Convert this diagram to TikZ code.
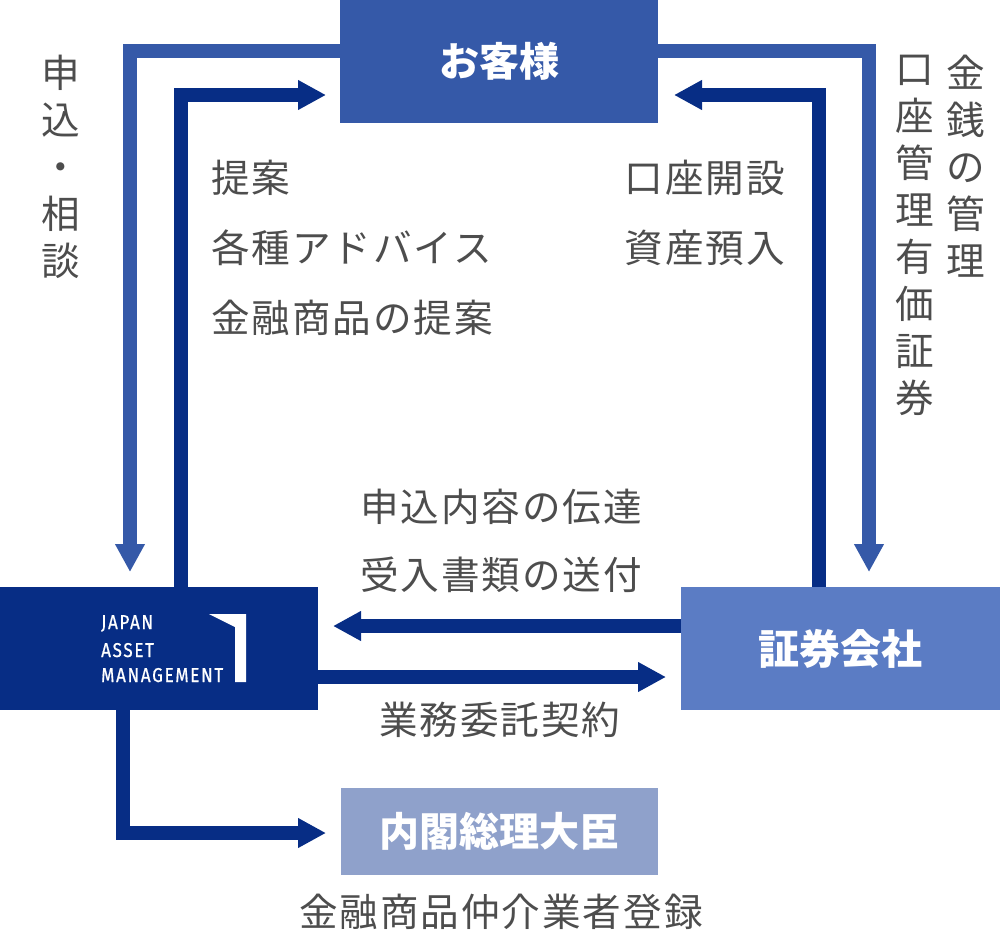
\documentclass[tikz,border=0pt]{standalone}
\usepackage{fontspec}
\setmainfont{Noto Sans CJK JP}
\newfontfamily\logofont[FakeBold=0.8]{Fira Sans}
\usetikzlibrary{arrows.meta}
\definecolor{cBlue}{HTML}{3559A8}
\definecolor{cNavy}{HTML}{072D85}
\definecolor{cMid}{HTML}{5B7CC4}
\definecolor{cPale}{HTML}{8FA1CB}
\definecolor{cText}{HTML}{4D4D4D}
\newcommand{\logotext}[1]{\scalebox{0.85}[1]{#1}}
\begin{document}
\begin{tikzpicture}[x=1pt,y=-1pt,
  box/.style={inner sep=0pt, draw=none, text=white, font=\fontsize{40}{40}\selectfont\bfseries},
  lbl/.style={text=cText, inner sep=0pt, font=\fontsize{38.6}{38.6}\selectfont\addfontfeatures{LetterSpace=5}},
  vlbl/.style={text=cText, inner sep=0pt, align=center, anchor=north, font=\fontsize{38.6}{47}\selectfont},
  lt/.style={draw=cBlue, line width=14.5pt, -{Triangle[width=28pt,length=28pt]}},
  dk/.style={draw=cNavy, line width=14.5pt, -{Triangle[width=28pt,length=28pt]}},
  logo/.style={text=white, inner sep=0pt, anchor=base west, font=\logofont\fontsize{20}{20}\selectfont\addfontfeatures{LetterSpace=10}}]
\useasboundingbox (0,0) rectangle (1000,935);
% boxes
\node[box, fill=cBlue, minimum width=318pt, minimum height=123pt] (cust) at (499,61.5) {お客様};
\node[box, fill=cNavy, minimum width=318pt, minimum height=123pt] (jam) at (159,648.5) {};
\node[box, fill=cMid, minimum width=319pt, minimum height=123pt, font=\fontsize{41}{41}\selectfont\bfseries] (sec) at (840.5,648.5) {証券会社};
\node[box, fill=cPale, minimum width=317pt, minimum height=87pt] (cab) at (499.5,831.5) {内閣総理大臣};
% logo
\node[logo] (lg1) at (101,629) {\logotext{JAPAN}};
\node[logo] (lg2) at (101,657) {\logotext{ASSET}};
\node[logo] (lg3) at (101,682) {\logotext{MANAGEMENT}};
\fill[white] (209,614) -- (246,614) -- (246,682) -- (235,682) -- (235,627) -- cycle;
% free ends
\coordinate (olEnd) at (130,572);
\coordinate (ilEnd) at (326,95);
\coordinate (orEnd) at (869,572);
\coordinate (irEnd) at (674,95);
\coordinate (jlEnd) at (333,626);
\coordinate (srEnd) at (666,677);
\coordinate (cbEnd) at (326,833);
% connectors
\draw[lt] (cust.west |- 0,51) -| (olEnd);
\draw[lt] (cust.east |- 0,51) -| (orEnd);
\draw[dk] (jam.north -| 181,0) |- (ilEnd);
\draw[dk] (sec.north -| 819,0) |- (irEnd);
\draw[dk] (sec.west |- 0,626) -- (jlEnd);
\draw[dk] (jam.east |- 0,677) -- (srEnd);
\draw[dk] (jam.south -| 123,0) |- (cbEnd);
% labels
\node[lbl, anchor=base west] (t1) at (211,192) {提案};
\node[lbl, anchor=base west] (t2) at (211,262) {各種アドバイス};
\node[lbl, anchor=base west] (t3) at (211,332) {金融商品の提案};
\node[lbl, anchor=base east] (t4) at (785,192) {口座開設};
\node[lbl, anchor=base east] (t5) at (785,262) {資産預入};
\node[lbl, anchor=base] (t6) at (501,521) {申込内容の伝達};
\node[lbl, anchor=base] (t7) at (501,589) {受入書類の送付};
\node[lbl, anchor=base] (t8) at (500,734) {業務委託契約};
\node[lbl, anchor=base] (t9) at (501,926) {金融商品仲介業者登録};
\node[vlbl] (v1) at (61,55) {申\\込\\・\\相\\談};
\node[vlbl] (v2) at (915,55) {口\\座\\管\\理\\有\\価\\証\\券};
\node[vlbl] (v3) at (966,55) {金\\銭\\の\\管\\理};
\end{tikzpicture}
\end{document}
